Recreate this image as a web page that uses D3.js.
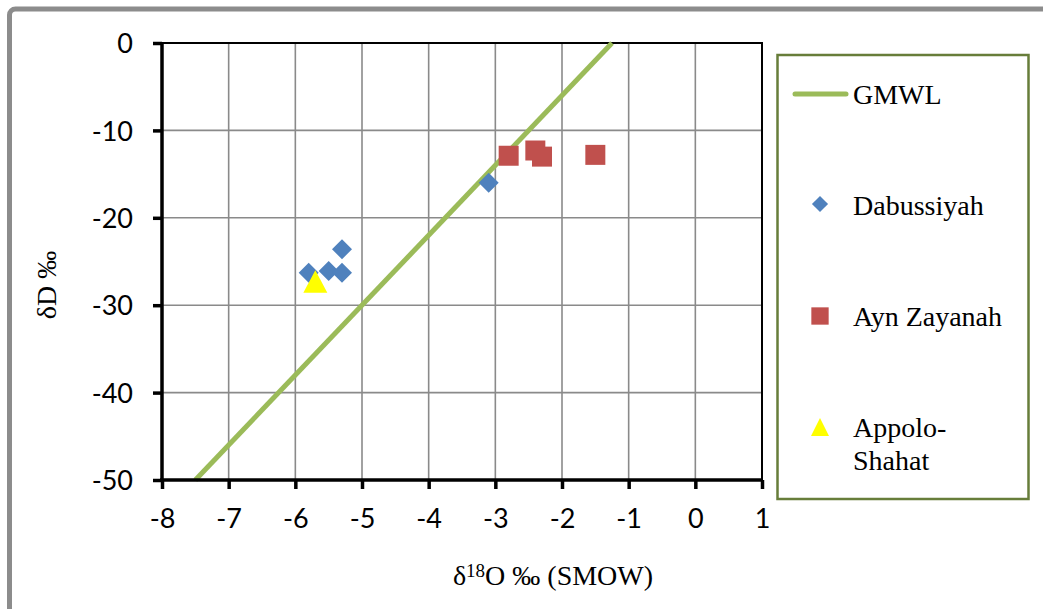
<!DOCTYPE html>
<html><head><meta charset="utf-8">
<script src="https://cdn.jsdelivr.net/npm/d3@7"></script>
<style>
body{margin:0;background:#fff;}
svg{display:block;}
</style></head>
<body>
<svg id="chart" width="1043" height="609"></svg>
<script>
// ---- data ----
const xTicks = [-8,-7,-6,-5,-4,-3,-2,-1,0,1];
const yTicks = [0,-10,-20,-30,-40,-50];
const gmwlX = [-7.5, -1.25];
const gmwlY = [-50, 0];
const dabX = [-5.8, -5.5, -5.3, -5.3, -3.1];
const dabY = [-26.3, -26.1, -26.3, -23.6, -16.0];
const aynX = [-2.8, -2.4, -2.3, -1.5];
const aynY = [-12.9, -12.3, -13.0, -12.8];
const appX = [-5.7];
const appY = [-27.5];
const legendNames = ["GMWL", "Dabussiyah", "Ayn Zayanah", "Appolo-|Shahat"];

const svg = d3.select("#chart");
const x = d3.scaleLinear().domain([-8,1]).range([162,762]);
const y = d3.scaleLinear().domain([-50,0]).range([480,43]);

// outer border
svg.append("rect").attr("x",9.5).attr("y",9).attr("width",1200).attr("height",800)
  .attr("rx",6).attr("fill","#fff").attr("stroke","#8c8c8c").attr("stroke-width",5);

// grid
const g = svg.append("g");
g.selectAll(".vg").data(xTicks.filter(d=>d>-8 && d<1)).join("line")
  .attr("x1",d=>x(d)).attr("x2",d=>x(d)).attr("y1",y(0)).attr("y2",y(-50))
  .attr("stroke","#8a8a8a").attr("stroke-width",1.6);
g.selectAll(".hg").data(yTicks.filter(d=>d<0 && d>-50)).join("line")
  .attr("y1",d=>y(d)).attr("y2",d=>y(d)).attr("x1",x(-8)).attr("x2",x(1))
  .attr("stroke","#8a8a8a").attr("stroke-width",1.6);
// top & right frame
svg.append("path").attr("d",`M${x(-8)},${y(0)}H${x(1)}V${y(-50)}`)
  .attr("fill","none").attr("stroke","#000").attr("stroke-width",2);

// GMWL line
svg.append("path").datum(gmwlX.map((d,i)=>[d,gmwlY[i]]))
  .attr("d",d3.line().x(d=>x(d[0])).y(d=>y(d[1])))
  .attr("stroke","#9BBB59").attr("stroke-width",5).attr("fill","none");

// axes
const fmt = d => String(d);
const xAxis = svg.append("g").attr("transform",`translate(0,${y(-50)})`)
  .call(d3.axisBottom(x).tickValues(xTicks).tickFormat(fmt).tickSize(9).tickSizeOuter(0).tickPadding(20));
const yAxis = svg.append("g").attr("transform",`translate(${x(-8)},0)`)
  .call(d3.axisLeft(y).tickValues(yTicks).tickFormat(fmt).tickSize(9).tickSizeOuter(0).tickPadding(20));
[xAxis,yAxis].forEach(a=>{
  a.select(".domain").attr("stroke","#000").attr("stroke-width",3.5);
  a.selectAll(".tick line").attr("stroke","#000").attr("stroke-width",3.5);
  a.selectAll("text").attr("font-family","Lato, sans-serif").attr("font-size",27).attr("fill","#000");
});
yAxis.selectAll("text").attr("dy","0.36em");
xAxis.select(".domain").attr("d",`M${x(-8)-2},0H${x(1)+1}`);
yAxis.select(".domain").attr("d",`M0,${y(0)}V${y(-50)+2}`);

// markers
const diamond = d3.symbol().type(d3.symbolSquare).size(200);
const square = d3.symbol().type(d3.symbolSquare).size(400);
const tri = "M0,-13L12,9.5L-12,9.5Z";

svg.append("g").selectAll("path").data(dabX.map((d,i)=>[d,dabY[i]])).join("path")
  .attr("d",diamond).attr("transform",d=>`translate(${x(d[0])},${y(d[1])}) rotate(45)`).attr("fill","#4F81BD");
svg.append("g").selectAll("path").data(aynX.map((d,i)=>[d,aynY[i]])).join("path")
  .attr("d",square).attr("transform",d=>`translate(${x(d[0])},${y(d[1])})`).attr("fill","#C0504D");
svg.append("g").selectAll("path").data(appX.map((d,i)=>[d,appY[i]])).join("path")
  .attr("d",tri).attr("transform",d=>`translate(${x(d[0])},${y(d[1])})`).attr("fill","#FFFF00");

// axis titles
const xt = svg.append("text").attr("x",553).attr("y",585).attr("text-anchor","middle")
  .attr("font-family","Liberation Serif, serif").attr("font-size",28).attr("fill","#000");
xt.append("tspan").text("δ");
xt.append("tspan").attr("font-size",19).attr("dy",-8).text("18");
xt.append("tspan").attr("dy",8).text("O ‰ (SMOW)");

svg.append("text").attr("transform","translate(46,285) rotate(-90)").attr("text-anchor","middle")
  .attr("dominant-baseline","central")
  .attr("font-family","Liberation Serif, serif").attr("font-size",28).attr("fill","#000").text("δD ‰");

// legend
const lg = svg.append("g");
lg.append("rect").attr("x",777.5).attr("y",55).attr("width",251).attr("height",444)
  .attr("fill","#fff").attr("stroke","#677d3a").attr("stroke-width",2.5);
lg.append("line").attr("x1",795).attr("x2",846).attr("y1",94).attr("y2",94)
  .attr("stroke","#9BBB59").attr("stroke-width",5).attr("stroke-linecap","round");
lg.append("path").attr("d",d3.symbol().type(d3.symbolSquare).size(130)).attr("transform","translate(820,204) rotate(45)").attr("fill","#4F81BD");
lg.append("path").attr("d",d3.symbol().type(d3.symbolSquare).size(300)).attr("transform","translate(820,316)").attr("fill","#C0504D");
lg.append("path").attr("d","M0,-10L9,8L-9,8Z").attr("transform","translate(820,428)").attr("fill","#FFFF00");
const baselines = [[104],[215],[326],[437,470]];
legendNames.forEach((n,i)=>{
  n.split("|").forEach((part,j)=>{
    lg.append("text").attr("x",853).attr("y",baselines[i][j])
      .attr("font-family","Liberation Serif, serif").attr("font-size",28).attr("fill","#000").text(part);
  });
});
</script>
</body></html>
